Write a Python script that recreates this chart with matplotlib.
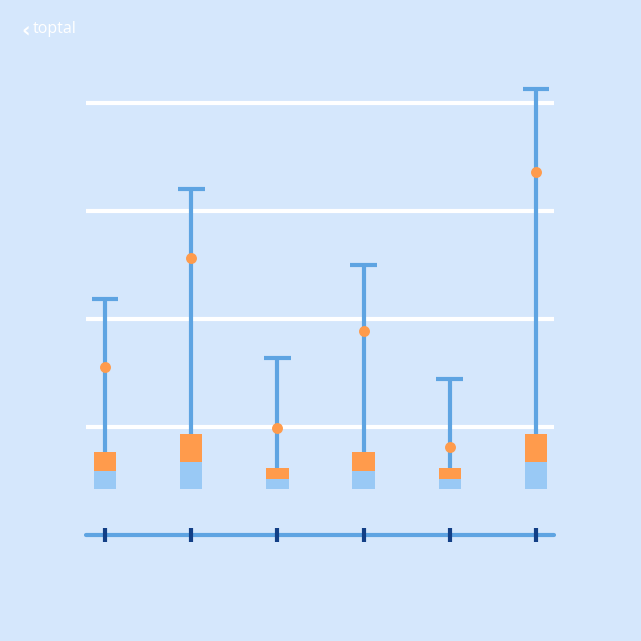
import numpy as np
import matplotlib.pyplot as plt

# values in gridline units (gridlines at 1..4)
positions = [0, 1, 2, 3, 4, 5]
box_low = [0.426, 0.426, 0.426, 0.426, 0.426, 0.426]
box_mid = [0.593, 0.676, 0.519, 0.593, 0.519, 0.676]
box_high = [0.769, 0.935, 0.620, 0.769, 0.620, 0.935]
means = [1.556, 2.565, 0.991, 1.889, 0.815, 3.361]
whisker_top = [2.185, 3.204, 1.639, 2.500, 1.444, 4.130]
grid_vals = [1, 2, 3, 4]

BG = "#d5e7fc"
LINE_BLUE = "#5ea4e2"
LIGHT_BLUE = "#99c9f5"
ORANGE = "#ff9b4c"
NAVY = "#123f86"

W, H = 641, 641
fig = plt.figure(figsize=(W / 100, H / 100), dpi=100, facecolor=BG)
unit = 108  # pixels per gridline step
ax = fig.add_axes([86 / W, (H - 535) / H, (554 - 86) / W, 4.3 * unit / H])
ax.set_facecolor(BG)
ax.set_xlim((86 - 105) / 86.2, (554 - 105) / 86.2)
ax.set_ylim(0, 4.3)
ax.axis("off")

for g in grid_vals:
    ax.axhline(g, color="white", lw=3, solid_capstyle="round", zorder=1)

ax.axhline(0, color=LINE_BLUE, lw=3, solid_capstyle="round", zorder=1, clip_on=False)
ax.vlines(positions, -0.065, 0.065, color=NAVY, lw=3, zorder=2, clip_on=False)

x = np.array(positions)
low = np.array(box_low)
mid = np.array(box_mid)
high = np.array(box_high)
ax.vlines(x, high, whisker_top, color=LINE_BLUE, lw=3, zorder=2)
ax.hlines(whisker_top, x - 0.155, x + 0.155, color=LINE_BLUE, lw=3, zorder=2)
ax.bar(x, mid - low, bottom=low, width=0.26, color=LIGHT_BLUE, zorder=3)
ax.bar(x, high - mid, bottom=mid, width=0.26, color=ORANGE, zorder=3)
ax.scatter(x, means, s=62, color=ORANGE, zorder=4, linewidths=0)

# logo
fig.text(21 / W, 1 - 30 / H, "\u2039", color="white", fontsize=15, fontweight="bold",
         va="center", ha="left", family="DejaVu Sans")
fig.text(33 / W, 1 - 29 / H, "toptal", color="white", fontsize=11.5,
         va="center", ha="left", family="Open Sans")

plt.savefig("out.png", dpi=100, facecolor=BG)
